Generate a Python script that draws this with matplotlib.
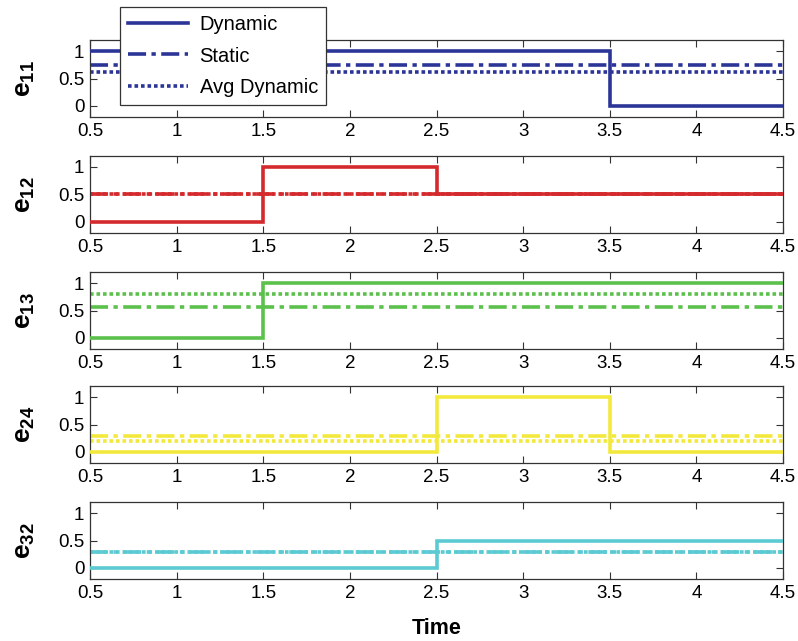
import matplotlib
matplotlib.use("Agg")
import matplotlib.pyplot as plt
from matplotlib.lines import Line2D

plt.rcParams['font.family'] = ['Liberation Sans', 'DejaVu Sans']
plt.rcParams['mathtext.fontset'] = 'custom'
plt.rcParams['mathtext.rm'] = 'Liberation Sans'
plt.rcParams['mathtext.bf'] = 'Liberation Sans:bold'

# Data
time_edges = [0.5, 1.5, 2.5, 3.5, 4.5]
names = ["11", "12", "13", "24", "32"]
dynamic_e11 = [1, 1, 1, 0]
dynamic_e12 = [0, 1, 0.5, 0.5]
dynamic_e13 = [0, 1, 1, 1]
dynamic_e24 = [0, 0, 1, 0]
dynamic_e32 = [0, 0, 0.5, 0.5]
static_vals = [0.74, 0.5, 0.56, 0.3, 0.3]
avg_dynamic_vals = [0.62, 0.5, 0.8, 0.2, 0.3]
dynamics = [dynamic_e11, dynamic_e12, dynamic_e13, dynamic_e24, dynamic_e32]
colors = ["#2b3597", "#d42a2e", "#5cc04c", "#f2e93c", "#5ccad2"]

xticks = [0.5, 1, 1.5, 2, 2.5, 3, 3.5, 4, 4.5]
xticklabels = ["0.5", "1", "1.5", "2", "2.5", "3", "3.5", "4", "4.5"]
yticks = [0, 0.5, 1]
yticklabels = ["0", "0.5", "1"]

W, H = 798, 641
fig = plt.figure(figsize=(W / 100, H / 100), dpi=100)

left, right = 90, 783
tops = [40, 156, 272, 386, 502]
ph = 77

dashdot = (0, (5, 1.5, 1.2, 1.5))
dotted = (0, (1.0, 0.8))

axes = []
for i in range(5):
    top = tops[i]
    ax = fig.add_axes([left / W, 1 - (top + ph) / H, (right - left) / W, ph / H])
    c = colors[i]
    ax.stairs(dynamics[i], time_edges, color=c, lw=2.6, baseline=None, zorder=3)
    ax.axhline(static_vals[i], color=c, lw=2.6, ls=dashdot, zorder=2)
    ax.axhline(avg_dynamic_vals[i], color=c, lw=2.6, ls=dotted, zorder=2)
    ax.set_xlim(0.5, 4.5)
    ax.set_ylim(-0.2, 1.2)
    ax.set_xticks(xticks)
    ax.set_xticklabels(xticklabels)
    ax.set_yticks(yticks)
    ax.set_yticklabels(yticklabels)
    ax.tick_params(direction='in', top=True, right=True, labelsize=13.5,
                   length=5, width=0.8, color='#333333', pad=4)
    for s in ax.spines.values():
        s.set_color('#333333')
        s.set_linewidth(0.9)
    fig.text(25 / W, 1 - (top + ph / 2) / H, r'$\mathbf{e_{' + names[i] + '}}$',
             rotation=90, ha='center', va='center', fontsize=19)
    axes.append(ax)

fig.text((left + right) / 2 / W, 1 - 628 / H, "Time", ha='center', va='center',
         fontsize=15.5, fontweight='bold')

handles = [
    Line2D([], [], color=colors[0], lw=2.6, ls='-'),
    Line2D([], [], color=colors[0], lw=2.6, ls=dashdot),
    Line2D([], [], color=colors[0], lw=2.6, ls=dotted),
]
leg = fig.legend(handles, ["Dynamic", "Static", "Avg Dynamic"],
                 loc='upper left', bbox_to_anchor=(120 / W, 1 - 7 / H),
                 fontsize=14.5, frameon=True, fancybox=False, handlelength=3.0,
                 borderpad=0.4, labelspacing=0.62, handletextpad=0.55,
                 borderaxespad=0, framealpha=1)
leg.get_frame().set_edgecolor('#333333')
leg.get_frame().set_linewidth(0.9)
leg.set_zorder(10)

fig.savefig("out.png", dpi=100)
